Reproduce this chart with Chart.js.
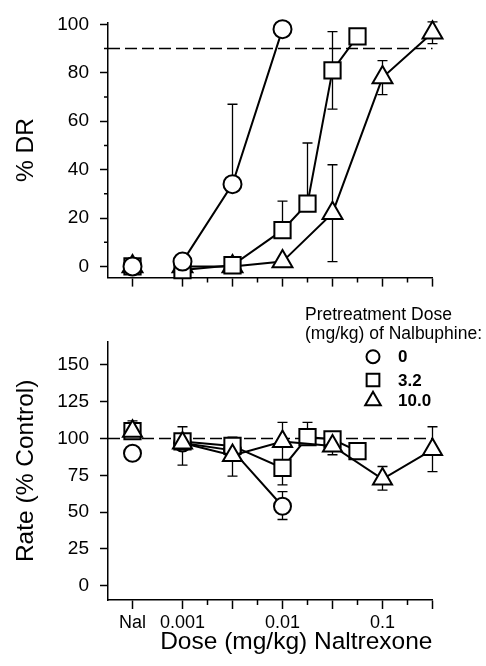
<!DOCTYPE html>
<html>
<head>
<meta charset="utf-8">
<script src="https://cdn.jsdelivr.net/npm/chart.js@4.4.1/dist/chart.umd.min.js"></script>
<style>
  html, body { margin: 0; padding: 0; background: #fff; }
  canvas { display: block; }
</style>
</head>
<body>
<canvas id="drChart" width="486" height="300"></canvas>
<canvas id="rateChart" width="486" height="366"></canvas>
<script>
// x values are log10(dose, mg/kg); "Nal" = naltrexone alone, drawn left of 0.001
const NAL_X = -3.5;
const dosesCircle = [-3, -2.5, -2];
const dosesSquare = [-3, -2.5, -2, -1.75, -1.5, -1.25];
const dosesTriangle = [-3, -2.5, -2, -1.5, -1, -0.5];

const xMajorTicks = [NAL_X, -3, -2.5, -2, -1.5, -1, -0.5];
const xMinorTicks = [-2.75, -2.25, -1.75, -1.25, -0.75];
const xTickLabels = ["Nal", "0.001", "", "0.01", "", "0.1", ""];

const seriesLabels = ["0", "3.2", "10.0"];
const legendTitle = ["Pretreatment Dose", "(mg/kg) of Nalbuphine:"];

// % DR panel
const drNal = [0, 0, 0];
const drCircle = [2, 34, 98];
const drSquare = [-1.5, 0.5, 15, 26, 81, 95];
const drTriangle = [0, 0, 2, 22, 78, 96.5];
const drCircleErr = [null, [34, 67], null];
const drSquareErr = [null, null, [15, 27], [26, 51], [65, 97], null];
const drTriangleErr = [null, null, null, [2, 42], [71, 85], [92, 101]];
const drYTicks = [0, 20, 40, 60, 80, 100];
const drYMinor = [10, 30, 50, 70, 90];
const DR_CRITERION = 90;

// Rate panel
const rateNal = [90, 105, 105];
const rateNalErr = [null, null, [105, 112]];
const rateCircle = [97, 92, 54];
const rateSquare = [98, 95, 80, 101, 99.5, 91.5];
const rateTriangle = [97, 88.5, 98, 95, 72.5, 92.5];
const rateCircleErr = [null, null, [45, 64]];
const rateSquareErr = [null, [95, 101], [68.5, 80], [101, 111], null, null];
const rateTriangleErr = [[82, 108], [74.5, 88.5], [85, 111], [89, 95], [65, 81], [77.5, 108]];
const rateYTicks = [0, 25, 50, 75, 100, 125, 150];
const RATE_CONTROL = 100;

Chart.defaults.font.family = "'Liberation Sans', Arial, Helvetica, sans-serif";
Chart.defaults.color = "#000";

const pts = (xs, ys) => xs.map((x, i) => ({ x: x, y: ys[i] }));
const styles = ["circle", "rect", "triangle"];

// dashed reference line
const refLine = {
  id: "refLine",
  beforeDatasetsDraw(chart, args, opts) {
    const { ctx, chartArea, scales } = chart;
    const y = scales.y.getPixelForValue(opts.value);
    ctx.save();
    ctx.strokeStyle = "#000";
    ctx.lineWidth = 1.5;
    ctx.setLineDash([12, 5]);
    ctx.beginPath();
    ctx.moveTo(chartArea.left, y);
    ctx.lineTo(chartArea.right, y);
    ctx.stroke();
    ctx.restore();
  }
};

// SEM bars, stored on the datasets as [low, high]
const errorBars = {
  id: "errorBars",
  beforeDatasetsDraw(chart) {
    const { ctx, scales } = chart;
    ctx.save();
    ctx.strokeStyle = "#000";
    ctx.lineWidth = 1.3;
    chart.data.datasets.forEach((ds, i) => {
      if (!ds.errors) return;
      const meta = chart.getDatasetMeta(i);
      ds.errors.forEach((e, j) => {
        if (!e || !meta.data[j]) return;
        const x = meta.data[j].x;
        const y1 = scales.y.getPixelForValue(e[0]);
        const y2 = scales.y.getPixelForValue(e[1]);
        ctx.beginPath();
        ctx.moveTo(x, y1); ctx.lineTo(x, y2);
        ctx.moveTo(x - 5, y1); ctx.lineTo(x + 5, y1);
        ctx.moveTo(x - 5, y2); ctx.lineTo(x + 5, y2);
        ctx.stroke();
      });
    });
    ctx.restore();
  }
};

// short in-between tick marks
const minorTicks = {
  id: "minorTicks",
  afterDraw(chart, args, opts) {
    const { ctx, chartArea, scales } = chart;
    ctx.save();
    ctx.strokeStyle = "#000";
    ctx.lineWidth = 1.5;
    ctx.beginPath();
    (opts.x || []).forEach(v => {
      const px = scales.x.getPixelForValue(v);
      ctx.moveTo(px, chartArea.bottom);
      ctx.lineTo(px, chartArea.bottom + opts.xLen);
    });
    (opts.y || []).forEach(v => {
      const py = scales.y.getPixelForValue(v);
      ctx.moveTo(chartArea.left - opts.yLen, py);
      ctx.lineTo(chartArea.left, py);
    });
    ctx.stroke();
    ctx.restore();
  }
};

// legend block over the rate panel
const doseLegend = {
  id: "doseLegend",
  afterDraw(chart, args, opts) {
    const ctx = chart.ctx;
    ctx.save();
    ctx.fillStyle = "#000";
    ctx.textAlign = "left";
    ctx.font = "17.5px 'Liberation Sans', Arial, sans-serif";
    ctx.textBaseline = "alphabetic";
    opts.title.forEach((t, i) => ctx.fillText(t, opts.x, opts.y + i * opts.lineGap));
    ctx.font = "bold 17px 'Liberation Sans', Arial, sans-serif";
    ctx.textBaseline = "middle";
    ctx.strokeStyle = "#000";
    ctx.lineWidth = 2;
    opts.labels.forEach((lab, i) => {
      ctx.fillStyle = "#fff";
      Chart.helpers.drawPoint(ctx, { pointStyle: styles[i], radius: opts.radius[i], borderWidth: 2, rotation: 0 },
        opts.symbolX, opts.itemY[i]);
      ctx.fillStyle = "#000";
      ctx.fillText(lab, opts.textX, opts.itemY[i] + 1);
    });
    ctx.restore();
  }
};

function series(label, xs, ys, errs, style, radius, order, line) {
  return {
    label: label,
    data: pts(xs, ys),
    errors: errs,
    showLine: line,
    borderColor: "#000",
    borderWidth: 2,
    pointStyle: style,
    pointRadius: radius,
    pointHoverRadius: radius,
    pointBackgroundColor: "#fff",
    pointBorderColor: "#000",
    pointBorderWidth: 2,
    order: order,
    clip: false
  };
}

function xScale(height, labels) {
  return {
    type: "linear",
    min: -3.745,
    max: -0.5,
    afterBuildTicks: s => { s.ticks = xMajorTicks.map(v => ({ value: v })); },
    afterFit: s => { s.height = height; },
    grid: { drawOnChartArea: false, drawTicks: true, tickLength: 9, tickColor: "#000", tickWidth: 1.5 },
    border: { color: "#000", width: 1.5 },
    ticks: {
      autoSkip: false, maxRotation: 0, padding: 3,
      font: { size: 18 },
      callback: (v, i) => labels ? xTickLabels[i] : ""
    }
  };
}

function yScale(min, max, ticks, title) {
  return {
    type: "linear",
    min: min,
    max: max,
    afterBuildTicks: s => { s.ticks = ticks.map(v => ({ value: v })); },
    afterFit: s => { s.width = 108; },
    grid: { drawOnChartArea: false, drawTicks: true, tickLength: 8, tickColor: "#000", tickWidth: 1.5 },
    border: { color: "#000", width: 1.5 },
    ticks: { padding: 11, font: { size: 19 } },
    title: { display: true, text: title, font: { size: 24.5 }, padding: { top: 12, bottom: 0 } }
  };
}

// top panel: % DR
new Chart(document.getElementById("drChart"), {
  type: "scatter",
  data: {
    datasets: [
      series(seriesLabels[0], dosesCircle, drCircle, drCircleErr, "circle", 9, 0, true),
      series(seriesLabels[1], dosesSquare, drSquare, drSquareErr, "rect", 11.5, 1, true),
      series(seriesLabels[2], dosesTriangle, drTriangle, drTriangleErr, "triangle", 11.5, 2, true),
      series(seriesLabels[0], [NAL_X], [drNal[0]], null, "circle", 9, 0, false),
      series(seriesLabels[1], [NAL_X], [drNal[1]], null, "rect", 11.5, 1, false),
      series(seriesLabels[2], [NAL_X], [drNal[2]], null, "triangle", 11.5, 2, false)
    ]
  },
  options: {
    responsive: false,
    animation: false,
    devicePixelRatio: 1,
    layout: { padding: { top: 22, right: 53.5, bottom: 0, left: 0 } },
    scales: {
      x: xScale(20.7, false),
      y: yScale(-4.6, 100.8, drYTicks, "% DR")
    },
    plugins: {
      legend: { display: false },
      tooltip: { enabled: false },
      refLine: { value: DR_CRITERION },
      minorTicks: { x: xMinorTicks, xLen: 5, y: drYMinor, yLen: 4 }
    }
  },
  plugins: [refLine, errorBars, minorTicks]
});

// bottom panel: response rate
new Chart(document.getElementById("rateChart"), {
  type: "scatter",
  data: {
    datasets: [
      series(seriesLabels[0], dosesCircle, rateCircle, rateCircleErr, "circle", 8.5, 2, true),
      series(seriesLabels[1], dosesSquare, rateSquare, rateSquareErr, "rect", 11.5, 1, true),
      series(seriesLabels[2], dosesTriangle, rateTriangle, rateTriangleErr, "triangle", 11, 0, true),
      series(seriesLabels[0], [NAL_X], [rateNal[0]], rateNalErr[0] ? [rateNalErr[0]] : null, "circle", 8.5, 2, false),
      series(seriesLabels[1], [NAL_X], [rateNal[1]], rateNalErr[1] ? [rateNalErr[1]] : null, "rect", 11.5, 1, false),
      series(seriesLabels[2], [NAL_X], [rateNal[2]], rateNalErr[2] ? [rateNalErr[2]] : null, "triangle", 11, 0, false)
    ]
  },
  options: {
    responsive: false,
    animation: false,
    devicePixelRatio: 1,
    layout: { padding: { top: 41.7, right: 53.5, bottom: 0, left: 0 } },
    scales: {
      x: Object.assign(xScale(66, true), {
        title: { display: true, text: "Dose (mg/kg) Naltrexone", align: "end", font: { size: 24.5 }, padding: { top: 0, bottom: 9 } }
      }),
      y: yScale(-9.7, 165.8, rateYTicks, "Rate (% Control)")
    },
    plugins: {
      legend: { display: false },
      tooltip: { enabled: false },
      refLine: { value: RATE_CONTROL },
      minorTicks: { x: xMinorTicks, xLen: 5, y: [], yLen: 4 },
      doseLegend: {
        title: legendTitle, labels: seriesLabels,
        x: 305, y: 20, lineGap: 18.5,
        symbolX: 373, textX: 398, itemY: [56.7, 80, 100.7], radius: [6.5, 9, 9]
      }
    }
  },
  plugins: [refLine, errorBars, minorTicks, doseLegend]
});
</script>
</body>
</html>
